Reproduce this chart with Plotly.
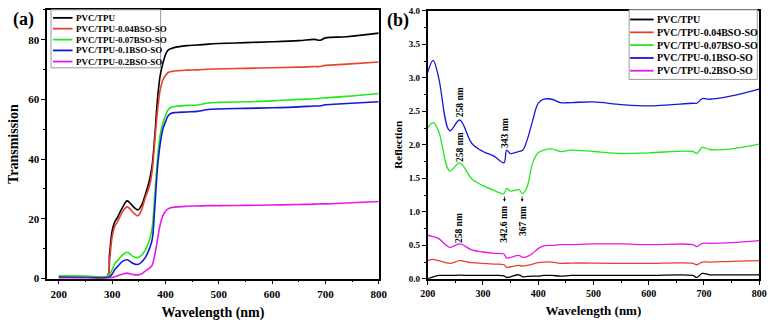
import plotly.graph_objects as go

# ---------------- Panel (a): Transmission ----------------
wl_a = [200, 250, 290, 295, 300, 305, 310, 320, 328, 335, 340, 348, 355, 362, 370, 375, 380, 385, 390,
        395, 400, 405, 410, 420, 440, 460, 480, 500, 550, 600, 650, 680, 690, 700, 740, 800]
t_pvc = [0.5, 0.5, 0.5, 8, 16, 19, 20.5, 24, 26, 25, 24, 23, 24.5, 28, 33, 38, 48, 60, 68,
         72, 75, 76.5, 77, 77.5, 78, 78.2, 78.5, 78.7, 79, 79.3, 79.7, 80.1, 79.8, 80.6, 81, 82.2]
t_004 = [0.5, 0.5, 0.5, 6, 14, 17.5, 19, 22.5, 24, 23, 22, 21, 23, 27, 31, 36, 46, 56, 63,
         66.5, 68, 69, 69.3, 69.6, 69.8, 69.9, 70.1, 70.2, 70.4, 70.6, 70.8, 71, 71, 71.4, 71.8, 72.5]
t_007 = [0.9, 0.8, 0.7, 1.2, 3, 5, 6, 8, 8.8, 8, 7.3, 7, 7.8, 9.5, 13, 17, 28, 40, 48,
         52, 54.5, 56.5, 57.3, 57.7, 58, 58.1, 58.8, 59, 59.2, 59.5, 60, 60.2, 60.4, 60.5, 61, 62]
t_01 = [0.4, 0.35, 0.3, 0.5, 1.5, 3, 4, 5.8, 6.3, 5.5, 5, 4.7, 5.5, 7, 10, 13, 24, 37, 45,
        50, 52.5, 54.5, 55.3, 55.6, 55.8, 56, 56.6, 56.8, 57, 57.2, 57.5, 57.8, 57.8, 58.2, 58.6, 59.2]
t_02 = [0.1, 0.05, 0.0, 0.1, 0.3, 0.6, 0.9, 1.5, 1.8, 1.5, 1.3, 1.2, 1.5, 2.5, 3.5, 4.5, 8, 13, 18,
        21, 22.5, 23.3, 23.7, 24, 24.2, 24.3, 24.4, 24.4, 24.5, 24.6, 24.8, 24.9, 25, 25, 25.3, 25.8]

# ---------------- Panel (b): Reflection ----------------
wl_b = [200, 210, 220, 240, 258, 280, 300, 320, 338, 343, 350, 365, 372, 380, 390, 400, 410, 425, 440,
        460, 500, 550, 600, 680, 687, 697, 710, 750, 800]
r_01 = [3.08, 3.26, 3.0, 2.21, 2.37, 2.02, 1.9, 1.83, 1.73, 1.92, 1.87, 1.9, 1.92, 2.07, 2.36, 2.62, 2.68, 2.68, 2.63,
        2.63, 2.64, 2.6, 2.58, 2.62, 2.62, 2.69, 2.68, 2.73, 2.83]
r_007 = [2.25, 2.33, 2.2, 1.61, 1.73, 1.49, 1.39, 1.32, 1.27, 1.35, 1.31, 1.33, 1.27, 1.37, 1.73, 1.88, 1.92, 1.94, 1.9,
         1.92, 1.9, 1.87, 1.88, 1.9, 1.87, 1.96, 1.93, 1.94, 2.01]
r_02 = [0.65, 0.63, 0.6, 0.47, 0.52, 0.43, 0.40, 0.38, 0.37, 0.31, 0.32, 0.35, 0.32, 0.33, 0.38, 0.45, 0.49, 0.5, 0.51,
        0.51, 0.52, 0.52, 0.51, 0.51, 0.48, 0.53, 0.53, 0.54, 0.57]
r_004 = [0.27, 0.29, 0.27, 0.23, 0.27, 0.24, 0.23, 0.22, 0.21, 0.17, 0.18, 0.2, 0.19, 0.2, 0.22, 0.24, 0.25, 0.25, 0.23,
         0.235, 0.235, 0.23, 0.23, 0.23, 0.21, 0.25, 0.25, 0.26, 0.27]
r_pvc = [0.0, 0.03, 0.05, 0.05, 0.055, 0.05, 0.05, 0.05, 0.045, 0.02, 0.03, 0.06, 0.03, 0.035, 0.04, 0.04, 0.05, 0.05, 0.04,
         0.05, 0.05, 0.05, 0.05, 0.05, 0.02, 0.08, 0.06, 0.06, 0.06]

names = ["PVC/TPU", "PVC/TPU-0.04BSO-SO", "PVC/TPU-0.07BSO-SO", "PVC/TPU-0.1BSO-SO", "PVC/TPU-0.2BSO-SO"]
colors = ["#000000", "#e8412f", "#22e81c", "#1717d6", "#e619e6"]

# peak / feature labels in panel (b)
peak_labels = ["258 nm", "258 nm", "343 nm", "258 nm", "342.6 nm", "367 nm"]
peak_x = [259, 259, 341, 257, 338, 372]
peak_y = [2.64, 1.97, 2.17, 0.76, 0.82, 0.86]
arrow_x = [339, 371]

FONT = "Liberation Serif"
W, H = 779, 328

fig = go.Figure()
for nm, col, ys in zip(names, colors, [t_pvc, t_004, t_007, t_01, t_02]):
    fig.add_trace(go.Scatter(x=wl_a, y=ys, name=nm, mode="lines", line=dict(color=col, width=1.6),
                             xaxis="x", yaxis="y", line_shape="spline", showlegend=False))
for nm, col, ys in zip(names, colors, [r_pvc, r_004, r_007, r_01, r_02]):
    fig.add_trace(go.Scatter(x=wl_b, y=ys, name=nm, mode="lines", line=dict(color=col, width=1.3),
                             xaxis="x2", yaxis="y2", line_shape="spline", showlegend=False))

base = dict(showline=True, linecolor="black", linewidth=1.6, mirror=True, ticks="outside",
            tickcolor="black", ticklen=4, tickwidth=1.4, showgrid=False, zeroline=False)

def tf(s):
    return dict(size=s, family=FONT, weight="bold", color="black")

fig.update_layout(
    width=W, height=H, margin=dict(l=0, r=0, t=0, b=0),
    paper_bgcolor="white", plot_bgcolor="white",
    font=dict(family=FONT, color="black", weight="bold"),
    showlegend=False,
    xaxis=dict(domain=[40/W, 379/W], range=[178, 800], anchor="y", dtick=100, tickfont=tf(11),
               title=dict(text="Wavelength (nm)", font=tf(14), standoff=9),
               minor=dict(ticks="outside", ticklen=2, tickcolor="black", dtick=50), **base),
    yaxis=dict(domain=[1-283/H, 1-5/H], range=[0, 90], anchor="x", dtick=20, tickfont=tf(11),
               title=dict(text="Transmission", font=tf(14), standoff=6),
               minor=dict(ticks="outside", ticklen=2, tickcolor="black", dtick=10), **base),
    xaxis2=dict(domain=[429/W, 768/W], range=[200, 800], anchor="y2", dtick=100, tickfont=tf(10),
                title=dict(text="Wavelength (nm)", font=tf(13), standoff=8),
                minor=dict(ticks="outside", ticklen=2, tickcolor="black", dtick=50), **base),
    yaxis2=dict(domain=[1-283.3/H, 1-6/H], range=[0, 4], anchor="x2", dtick=0.5, tickformat=".1f",
                tickfont=tf(9), title=dict(text="Reflection", font=tf(11), standoff=4),
                minor=dict(ticks="outside", ticklen=2, tickcolor="black", dtick=0.25), **base),
)

# ---- custom compact legends (paper coordinates) ----
def legend(box, rows_y, line_x0, line_x1, text_x, fsize):
    x0, y0, x1, y1 = box
    fig.add_shape(type="rect", xref="paper", yref="paper", x0=x0/W, x1=x1/W, y0=1-y0/H, y1=1-y1/H,
                  line=dict(color="#9a9a9a", width=1), fillcolor="white", layer="above")
    for nm, col, ry in zip(names, colors, rows_y):
        fig.add_shape(type="line", xref="paper", yref="paper", x0=line_x0/W, x1=line_x1/W,
                      y0=1-ry/H, y1=1-ry/H, line=dict(color=col, width=1.8), layer="above")
        fig.add_annotation(text=nm, xref="paper", yref="paper", x=text_x/W, y=1-ry/H,
                           xanchor="left", yanchor="middle", showarrow=False, font=tf(fsize))

legend((44, 5, 156, 65), [13.3, 24.5, 35.8, 47, 58.5], 46, 66, 67.5, 9)
legend((635, 5, 766, 77), [15, 28.3, 41.5, 54.8, 68], 636, 660, 661.5, 10)

fig.add_annotation(text="(a)", xref="paper", yref="paper", x=3/W, y=1-2/H, xanchor="left", yanchor="top",
                   showarrow=False, font=tf(18))
fig.add_annotation(text="(b)", xref="paper", yref="paper", x=385/W, y=1-3/H, xanchor="left", yanchor="top",
                   showarrow=False, font=tf(18))
for txt, xv, yv in zip(peak_labels, peak_x, peak_y):
    fig.add_annotation(text=txt, x=xv, y=yv, xref="x2", yref="y2", textangle=-90, showarrow=False, font=tf(9.5))
for xa in arrow_x:
    fig.add_annotation(text="", x=xa, y=1.15, ax=xa, ay=1.25, xref="x2", yref="y2", axref="x2", ayref="y2",
                       showarrow=True, arrowhead=2, arrowsize=0.7, arrowwidth=0.8, arrowcolor="black")

fig.write_html("out.html")
